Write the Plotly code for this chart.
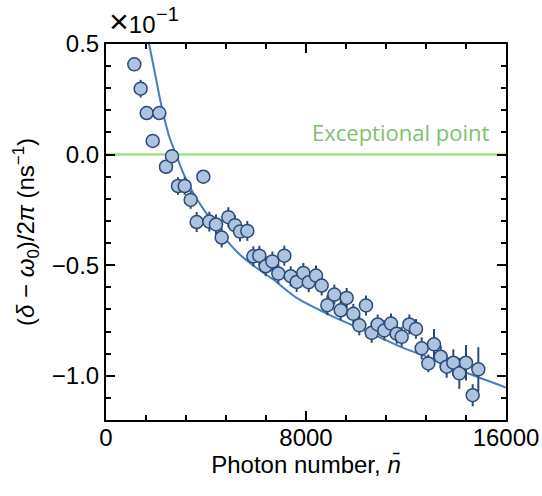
import plotly.graph_objects as go

# measured data (units of 1e-1 ns^-1)
photon_n = [1133, 1387, 1627, 1867, 2133, 2400, 2640, 2880, 3147, 3387,
            3627, 3893, 4133, 4400, 4627, 4893, 5160, 5360, 5653, 5893,
            6133, 6387, 6653, 6893, 7133, 7387, 7627, 7893, 8110, 8400,
            8627, 8853, 9133, 9387, 9627, 9893, 10133, 10400, 10627, 10867,
            11133, 11400, 11627, 11827, 12133, 12400, 12627, 12893, 13120, 13387,
            13627, 13893, 14133, 14400, 14667, 14893]
detuning = [0.408, 0.298, 0.188, 0.062, 0.188, -0.055, -0.007, -0.142, -0.142, -0.205,
            -0.305, -0.100, -0.303, -0.316, -0.375, -0.283, -0.319, -0.348, -0.345, -0.460,
            -0.457, -0.505, -0.483, -0.538, -0.457, -0.550, -0.576, -0.535, -0.577, -0.547,
            -0.592, -0.681, -0.633, -0.704, -0.648, -0.720, -0.772, -0.682, -0.806, -0.768,
            -0.795, -0.764, -0.810, -0.824, -0.768, -0.788, -0.876, -0.944, -0.858, -0.914,
            -0.959, -0.941, -0.989, -0.941, -1.088, -0.971]
detuning_err = [0.025, 0.04, 0.03, 0.03, 0.03, 0.03, 0.03, 0.04, 0.04, 0.04,
                0.045, 0.03, 0.045, 0.045, 0.045, 0.045, 0.045, 0.045, 0.045, 0.045,
                0.045, 0.045, 0.045, 0.045, 0.045, 0.045, 0.045, 0.045, 0.045, 0.045,
                0.045, 0.045, 0.045, 0.045, 0.045, 0.045, 0.045, 0.045, 0.045, 0.045,
                0.045, 0.045, 0.045, 0.045, 0.045, 0.045, 0.05, 0.04, 0.07, 0.05,
                0.05, 0.06, 0.07, 0.08, 0.05, 0.10]

# fitted curve
fit_n = [1650, 1733, 1960, 2227, 2533, 2800, 3093, 3493, 4027, 4693,
         5360, 6027, 6693, 7627, 9000, 10427, 11760, 13093, 14500, 16000]
fit_y = [0.53, 0.493, 0.366, 0.215, 0.080, 0.000, -0.085, -0.175, -0.268, -0.370,
         -0.453, -0.513, -0.565, -0.648, -0.728, -0.800, -0.868, -0.925, -0.990, -1.053]

x_ticks = [0, 8000, 16000]
y_ticks = [0.5, 0.0, -0.5, -1.0]
y_ticklabels = ["0.5", "0.0", "\u22120.5", "\u22121.0"]

FONT = "Liberation Sans, Arial, sans-serif"
DARK = "#2b4a78"

fig = go.Figure()
fig.add_trace(go.Scatter(
    x=fit_n, y=fit_y, mode="lines", line=dict(color="#4a7cc0", width=2, shape="spline", smoothing=0.6),
    hoverinfo="skip", showlegend=False))
fig.add_trace(go.Scatter(
    x=photon_n, y=detuning, mode="markers",
    error_y=dict(type="data", array=detuning_err, color=DARK, thickness=2, width=0),
    marker=dict(size=13, color="#adc3e0", line=dict(color=DARK, width=1.5)),
    showlegend=False))

fig.add_shape(type="line", xref="paper", x0=0, x1=1, yref="y", y0=0, y1=0,
              line=dict(color="#9de27f", width=2.5), layer="below")

fig.add_annotation(text="Exceptional point", xref="paper", x=0.962, xanchor="right",
                   yref="y", y=0.025, yanchor="bottom", showarrow=False,
                   font=dict(family="Open Sans, sans-serif", size=22, color="#7cc26c"))
fig.add_annotation(text="<span style='font-size:34px'>\u00d7</span>10", xref="paper", x=0.0,
                   xanchor="left", xshift=1,
                   yref="paper", y=1.0, yanchor="bottom", yshift=2, showarrow=False,
                   font=dict(family=FONT, size=24, color="black"))
fig.add_annotation(text="\u22121", xref="paper", x=0.0, xanchor="left", xshift=48,
                   yref="paper", y=1.0, yanchor="bottom", yshift=17, showarrow=False,
                   font=dict(family=FONT, size=20, color="black"))

fig.update_layout(
    width=542, height=496,
    margin=dict(l=106, r=36, t=44, b=76),
    paper_bgcolor="white", plot_bgcolor="white",
    font=dict(family=FONT, size=24, color="black"),
    xaxis=dict(range=[0, 16000], tickvals=x_ticks, ticktext=[str(v) for v in x_ticks],
               automargin=False,
               showline=True, linecolor="black", linewidth=2, mirror="allticks",
               ticks="inside", ticklen=9, tickwidth=2, tickcolor="black",
               ticklabelstandoff=-5,
               minor=dict(dtick=1600, ticks="inside", ticklen=5, tickwidth=1.5, tickcolor="black"),
               showgrid=False, zeroline=False,
               title=dict(text="Photon number, <i>n\u0304</i>", font=dict(size=24), standoff=0)),
    yaxis=dict(range=[-1.2, 0.5], tickvals=y_ticks, ticktext=y_ticklabels,
               automargin=False,
               showline=True, linecolor="black", linewidth=2, mirror="allticks",
               ticks="inside", ticklen=9, tickwidth=2, tickcolor="black",
               minor=dict(dtick=0.1, ticks="inside", ticklen=5, tickwidth=1.5, tickcolor="black"),
               showgrid=False, zeroline=False,
               title=dict(text="(<i>\u03b4</i> \u2212 <i>\u03c9</i><sub>0</sub>)/2<i>\u03c0</i> (ns<sup>\u22121</sup>)",
                          font=dict(size=24), standoff=10)),
)

fig.write_html("out.html")
